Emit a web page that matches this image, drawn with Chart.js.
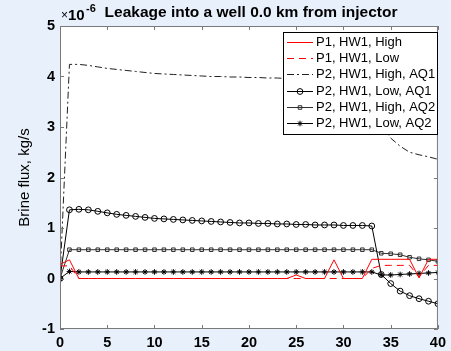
<!DOCTYPE html>
<html>
<head>
<meta charset="utf-8">
<script src="https://cdn.jsdelivr.net/npm/chart.js@4.4.0/dist/chart.umd.min.js"></script>
<style>
    html, body { margin: 0; padding: 0; background: #e8f1fb; }
    #wrap { width: 451px; height: 351px; }
</style>
</head>
<body>
<div id="wrap"><canvas id="chart_canvas" width="451" height="351"></canvas></div>
<script>
// time axis (years), values in units of 1e-6 kg/s
var steps = [0, 1, 2, 3, 4, 5, 6, 7, 8, 9, 10, 11, 12, 13, 14, 15, 16, 17, 18, 19, 20,
    21, 22, 23, 24, 25, 26, 27, 28, 29, 30, 31, 32, 33, 34, 35, 36, 37, 38, 39, 40];
var xTicks = [0, 5, 10, 15, 20, 25, 30, 35, 40];
var yTicks = [-1, 0, 1, 2, 3, 4, 5];

var p1High = [0.28, 0.37, 0, 0, 0, 0, 0, 0, 0, 0, 0, 0, 0, 0, 0, 0, 0, 0, 0, 0, 0,
    0, 0, 0, 0, 0.07, 0, 0, 0, 0.37, 0, 0, 0, 0.38, 0.38, 0.38, 0.38, 0.38, 0.01, 0.38, 0.38];
var p1Low = [0.25, 0.25, 0, 0, 0, 0, 0, 0, 0, 0, 0, 0, 0, 0, 0, 0, 0, 0, 0, 0, 0,
    0, 0, 0, 0, 0, 0, 0, 0, 0, 0, 0, 0, 0.2, 0.26, 0.26, 0.26, 0.26, 0.03, 0.26, 0.26];
var p2HighAQ1 = [0, 4.24, 4.24, 4.22, 4.19, 4.16, 4.14, 4.12, 4.10, 4.08, 4.06,
    4.05, 4.04, 4.03, 4.02, 4.01, 4.00, 4.00, 3.99, 3.99, 3.98,
    3.98, 3.97, 3.97, 3.96, 3.96, 3.96, 3.95, 3.95, 3.95, 3.94,
    3.92, 3.85, 3.60, 3.05, 2.78, 2.62, 2.50, 2.45, 2.41, 2.36];
var p2LowAQ1 = [0, 1.36, 1.37, 1.36, 1.33, 1.30, 1.27, 1.25, 1.23, 1.21, 1.19,
    1.18, 1.17, 1.16, 1.15, 1.14, 1.13, 1.12, 1.11, 1.10, 1.10,
    1.09, 1.09, 1.08, 1.08, 1.07, 1.07, 1.06, 1.06, 1.06, 1.05,
    1.05, 1.05, 1.04, 0.08, -0.10, -0.25, -0.34, -0.40, -0.45, -0.50];
var p2HighAQ2 = [0, 0.57, 0.57, 0.57, 0.57, 0.57, 0.57, 0.57, 0.57, 0.57, 0.57,
    0.57, 0.57, 0.57, 0.57, 0.57, 0.57, 0.57, 0.57, 0.57, 0.57,
    0.57, 0.57, 0.57, 0.57, 0.57, 0.57, 0.57, 0.57, 0.57, 0.57,
    0.57, 0.57, 0.57, 0.50, 0.49, 0.47, 0.42, 0.39, 0.37, 0.34];
var p2LowAQ2 = [0, 0.14, 0.13, 0.13, 0.13, 0.13, 0.13, 0.13, 0.13, 0.13, 0.13,
    0.13, 0.13, 0.13, 0.13, 0.13, 0.13, 0.13, 0.13, 0.13, 0.13,
    0.13, 0.13, 0.13, 0.13, 0.13, 0.13, 0.13, 0.13, 0.13, 0.13,
    0.13, 0.13, 0.13, 0.07, 0.07, 0.08, 0.09, 0.10, 0.11, 0.12];

var fontFamily = "'Liberation Sans', Arial, sans-serif";
var axisColor = "#7a7a7a";

function toPoints(values) {
    return values.map(function(v, i) { return { x: steps[i], y: v }; });
}

function series(label, values, color, dash, style, radius, fill) {
    return {
        label: label,
        data: toPoints(values),
        borderColor: color,
        borderWidth: 1,
        borderDash: dash,
        fill: false,
        tension: 0,
        pointStyle: style,
        pointRadius: radius,
        pointBorderColor: color,
        pointBackgroundColor: fill,
        pointBorderWidth: 1
    };
}

var chartData = {
    datasets: [
        series("P1, HW1, High", p1High, "#ff0000", [], false, 0, "transparent"),
        series("P1, HW1, Low", p1Low, "#ff0000", [7, 5], false, 0, "transparent"),
        series("P2, HW1, High, AQ1", p2HighAQ1, "#202020", [7, 3, 2, 3], false, 0, "transparent"),
        series("P2, HW1, Low, AQ1", p2LowAQ1, "#000000", [], "circle", 2.9, "transparent"),
        series("P2, HW1, High, AQ2", p2HighAQ2, "#303030", [], "rect", 2.5, "transparent"),
        series("P2, HW1, Low, AQ2", p2LowAQ2, "#000000", [], "star", 2.8, "transparent")
    ]
};

// white plot area, box with inward ticks, title, exponent and legend
var matlabLook = {
    id: "matlabLook",
    beforeDatasetsDraw: function(chart) {
        var a = chart.chartArea, ctx = chart.ctx;
        ctx.save();
        ctx.fillStyle = "#ffffff";
        ctx.fillRect(a.left, a.top, a.right - a.left, a.bottom - a.top);
        ctx.restore();
    },
    afterDraw: function(chart) {
        var a = chart.chartArea, ctx = chart.ctx;
        var xs = chart.scales.x, ys = chart.scales.y;
        ctx.save();
        ctx.strokeStyle = axisColor;
        ctx.lineWidth = 1;
        ctx.strokeRect(a.left + 0.5, a.top + 0.5, a.right - a.left - 1, a.bottom - a.top - 1);
        ctx.beginPath();
        xTicks.forEach(function(t) {
            var px = Math.round(xs.getPixelForValue(t)) + 0.5;
            ctx.moveTo(px, a.bottom); ctx.lineTo(px, a.bottom - 4);
            ctx.moveTo(px, a.top); ctx.lineTo(px, a.top + 4);
        });
        yTicks.forEach(function(t) {
            var py = Math.round(ys.getPixelForValue(t)) + 0.5;
            ctx.moveTo(a.left, py); ctx.lineTo(a.left + 4, py);
            ctx.moveTo(a.right, py); ctx.lineTo(a.right - 4, py);
        });
        ctx.stroke();

        // title and exponent
        ctx.fillStyle = "#000000";
        ctx.textBaseline = "middle";
        ctx.textAlign = "center";
        ctx.font = "bold 15.5px " + fontFamily;
        ctx.fillText("Leakage into a well 0.0 km from injector", 251, 13);
        ctx.textAlign = "left";
        ctx.textBaseline = "alphabetic";
        ctx.font = "12px " + fontFamily;
        ctx.fillText("\u00d7", 61, 19);
        ctx.font = "bold 15px " + fontFamily;
        ctx.fillText("10", 68, 20);
        ctx.font = "bold 11px " + fontFamily;
        ctx.fillText("-6", 86, 12);

        // legend box
        var lx = 283, ly = 32, lw = 154, lh = 102;
        ctx.fillStyle = "#ffffff";
        ctx.fillRect(lx, ly, lw, lh);
        ctx.strokeStyle = "#000000";
        ctx.strokeRect(lx + 0.5, ly + 0.5, lw, lh);
        chart.data.datasets.forEach(function(ds, i) {
            var y = Math.round(42 + i * 16.2) + 0.5;
            ctx.save();
            ctx.strokeStyle = ds.borderColor;
            ctx.lineWidth = 1;
            ctx.setLineDash(ds.borderDash);
            ctx.beginPath();
            ctx.moveTo(287, y); ctx.lineTo(313, y);
            ctx.stroke();
            ctx.setLineDash([]);
            if (ds.pointStyle && ds.pointRadius > 0) {
                ctx.strokeStyle = ds.pointBorderColor;
                ctx.fillStyle = ds.pointBackgroundColor;
                Chart.helpers.drawPoint(ctx, {
                    pointStyle: ds.pointStyle, radius: ds.pointRadius,
                    rotation: 0, borderWidth: 1
                }, 300, y);
            }
            ctx.restore();
            ctx.fillStyle = "#000000";
            ctx.font = "13px " + fontFamily;
            ctx.textBaseline = "middle";
            ctx.fillText(ds.label, 316, y);
        });
        ctx.restore();
    }
};

var context = document.getElementById("chart_canvas");
var lineChart = new Chart(context, {
    type: "line",
    data: chartData,
    plugins: [matlabLook],
    options: {
        responsive: false,
        animation: false,
        layout: { padding: { top: 26, right: 8, left: 0, bottom: 0 } },
        plugins: {
            legend: { display: false },
            tooltip: { enabled: false },
            title: { display: false }
        },
        scales: {
            x: {
                type: "linear",
                min: 0,
                max: 40,
                grid: { display: false, drawTicks: false },
                border: { display: false },
                ticks: {
                    stepSize: 5,
                    maxRotation: 0,
                    color: "#000000",
                    padding: 5,
                    font: { family: fontFamily, size: 14.5, weight: "bold" }
                },
                afterFit: function(scale) { scale.height = 22; }
            },
            y: {
                min: -1,
                max: 5,
                grid: { display: false, drawTicks: false },
                border: { display: false },
                ticks: {
                    stepSize: 1,
                    color: "#000000",
                    padding: 5,
                    font: { family: fontFamily, size: 14.5, weight: "bold" }
                },
                title: {
                    display: true,
                    text: "Brine flux, kg/s",
                    color: "#000000",
                    padding: { top: 16, bottom: 0 },
                    font: { family: fontFamily, size: 15 }
                },
                afterFit: function(scale) { scale.width = 60; }
            }
        }
    }
});
</script>
</body>
</html>
